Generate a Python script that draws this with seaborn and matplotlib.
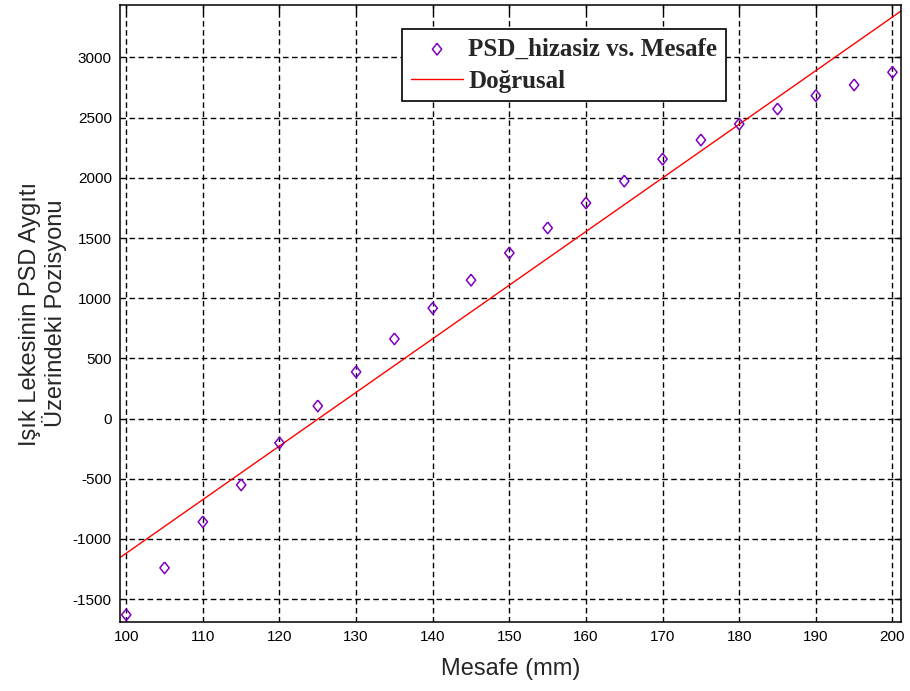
import matplotlib
matplotlib.use("Agg")
import matplotlib.pyplot as plt
import seaborn as sns

# Measured positions (mm) and spot position on the PSD device
mesafe = [100, 105, 110, 115, 120, 125, 130, 135, 140, 145, 150,
          155, 160, 165, 170, 175, 180, 185, 190, 195, 200]
psd_hizasiz = [-1630, -1240, -858, -551, -202, 105, 388, 662, 917, 1150, 1376,
               1584, 1791, 1973, 2156, 2314, 2447, 2572, 2683, 2772, 2877]

x_ticks = [100, 110, 120, 130, 140, 150, 160, 170, 180, 190, 200]
y_ticks = [-1500, -1000, -500, 0, 500, 1000, 1500, 2000, 2500, 3000]

sns.set_style("white")
plt.rcParams['font.family'] = ['Liberation Sans', 'DejaVu Sans']
plt.rcParams['axes.unicode_minus'] = False

fig = plt.figure(figsize=(9.1, 6.91), dpi=100)
ax = fig.add_axes([0.132, 0.0998, 0.858, 0.8930])
ax.set_xlim(99.2, 201.1)
ax.set_ylim(-1690, 3436)

# slightly tall diamond, like the MATLAB marker
diamond = [(0, 1), (0.8, 0), (0, -1), (-0.8, 0), (0, 1)]
purple = '#7F00BF'
sns.scatterplot(x=mesafe, y=psd_hizasiz, marker=diamond, s=70,
                facecolor='none', edgecolor=purple, linewidth=1.1,
                label='PSD_hizasiz vs. Mesafe', ax=ax, zorder=3)

# linear fit across the whole axis range
sns.regplot(x=mesafe, y=psd_hizasiz, scatter=False, ci=None, truncate=False,
            color='red', line_kws={'linewidth': 1.0}, label='Doğrusal', ax=ax)

ax.set_xlim(99.2, 201.1)
ax.set_ylim(-1690, 3436)
ax.set_xticks(x_ticks)
ax.set_yticks(y_ticks)
ax.tick_params(direction='in', top=True, right=True, length=5, width=1,
               labelsize=11, colors='black', pad=6)
ax.grid(True, color='black', linestyle=(0, (4, 2.5)), linewidth=1.0)
for sp in ax.spines.values():
    sp.set_color('black')
    sp.set_linewidth(1.1)

ax.set_xlabel('Mesafe (mm)', fontsize=17, labelpad=10)
ax.set_ylabel('Işık Lekesinin PSD Aygıtı\nÜzerindeki Pozisyonu', fontsize=17,
              labelpad=4, linespacing=1.05)

leg = ax.legend(loc='upper left', bbox_to_anchor=(0.4418, 0.958),
                bbox_transform=fig.transFigure, borderaxespad=0,
                fancybox=False, framealpha=1,
                edgecolor='black', handlelength=2.1, borderpad=0.35,
                labelspacing=0.35, handletextpad=0.2,
                prop={'family': 'Liberation Serif', 'weight': 'bold', 'size': 18})
leg.get_frame().set_linewidth(1.2)

fig.savefig('out.png', dpi=100)
